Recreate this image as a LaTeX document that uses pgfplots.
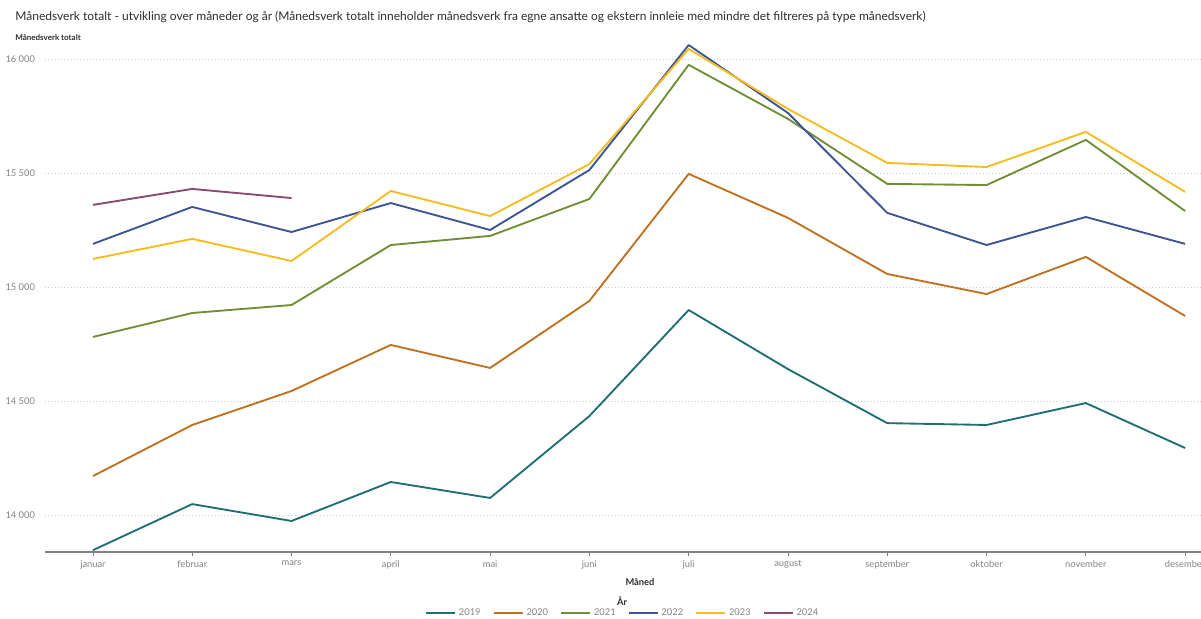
\documentclass[border=0pt]{standalone}
\usepackage{fontspec}
\setmainfont{Lato}
\usepackage{pgfplots}
\pgfplotsset{compat=1.18}

\definecolor{c2019}{RGB}{31,110,114}
\definecolor{c2020}{RGB}{192,113,31}
\definecolor{c2021}{RGB}{112,142,52}
\definecolor{c2022}{RGB}{59,84,148}
\definecolor{c2023}{RGB}{246,188,30}
\definecolor{c2024}{RGB}{138,74,114}
\definecolor{txt}{RGB}{45,45,45}
\definecolor{tick}{RGB}{130,130,130}

\begin{document}
\begin{tikzpicture}
\path[use as bounding box] (0,0) rectangle (900.75pt,463.5pt);

\node[anchor=west, text=txt, font=\fontsize{9}{10}\selectfont] at (8pt,450.75pt)
  {Månedsverk totalt - utvikling over måneder og år (Månedsverk totalt inneholder månedsverk fra egne ansatte og ekstern innleie med mindre det filtreres på type månedsverk)};
\node[anchor=west, text=txt, font=\fontsize{6}{7}\selectfont\bfseries] at (8pt,435.75pt) {Månedsverk totalt};
\node[text=txt, font=\fontsize{7}{8}\selectfont\bfseries] at (480pt,27pt) {Måned};
\node[text=txt, font=\fontsize{7}{8}\selectfont\bfseries] at (466.5pt,12.5pt) {År};

\begin{axis}[
  at={(33.75pt,49.5pt)}, anchor=south west,
  scale only axis, width=867pt, height=384pt,
  xmin=-0.483, xmax=11.16,
  ymin=13838, ymax=16083,
  xtick={0,...,11},
  xticklabels={januar,februar,mars,april,mai,juni,juli,august,september,oktober,november,desember},
  ytick={14000,14500,15000,15500,16000},
  scaled y ticks=false,
  yticklabel={\pgfmathprintnumber[assume math mode=true,1000 sep={\ }]{\tick}},
  ticklabel style={text=tick, font=\fontsize{7}{8}\selectfont},
  axis x line*=bottom, axis y line*=left,
  x axis line style={draw=tick, line width=0.9pt, -},
  y axis line style={draw=none},
  ytick style={draw=none},
  xtick style={draw=tick, line width=0.6pt},
  tick align=outside, major tick length=3pt,
  ymajorgrids, grid style={dotted, gray!40, line width=0.5pt},
  yticklabel style={xshift=-1pt},
  legend columns=-1,
  legend style={at={(0.5,-0.119)}, anchor=center, draw=none, fill=none,
    font=\fontsize{7}{8}\selectfont, text=tick,
    /tikz/every even column/.append style={column sep=7pt}},
  legend image code/.code={\draw[#1] (0pt,0pt) -- (22pt,0pt);},
  every axis plot/.append style={line width=1.4pt, line join=round},
]
\addplot[c2019] coordinates {(0,13846) (1,14048) (2,13974) (3,14145) (4,14075) (5,14434) (6,14899) (7,14640) (8,14403) (9,14395) (10,14491) (11,14294)};
\addplot[c2020] coordinates {(0,14171) (1,14395) (2,14544) (3,14746) (4,14645) (5,14939) (6,15496) (7,15303) (8,15057) (9,14969) (10,15132) (11,14873)};
\addplot[c2021] coordinates {(0,14781) (1,14886) (2,14921) (3,15184) (4,15224) (5,15386) (6,15974) (7,15737) (8,15452) (9,15447) (10,15645) (11,15333)};
\addplot[c2022] coordinates {(0,15189) (1,15351) (2,15241) (3,15368) (4,15250) (5,15513) (6,16061) (7,15763) (8,15325) (9,15184) (10,15307) (11,15189)};
\addplot[c2023] coordinates {(0,15123) (1,15211) (2,15114) (3,15421) (4,15311) (5,15539) (6,16044) (7,15781) (8,15544) (9,15526) (10,15680) (11,15417)};
\addplot[c2024] coordinates {(0,15360) (1,15430) (2,15390)};
\legend{2019,2020,2021,2022,2023,2024}
\end{axis}
\end{tikzpicture}
\end{document}
